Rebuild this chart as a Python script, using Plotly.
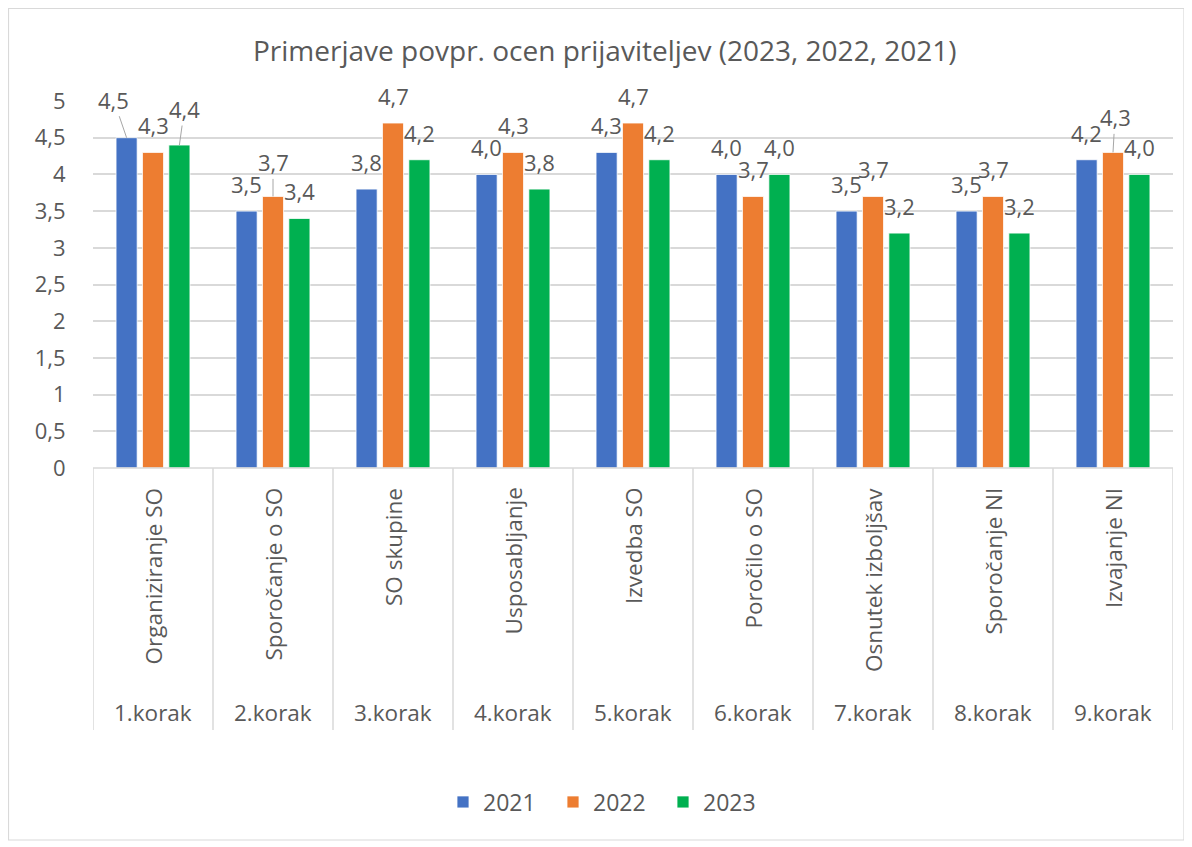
import plotly.graph_objects as go

# ---- data ----
steps = ["1.korak", "2.korak", "3.korak", "4.korak", "5.korak",
         "6.korak", "7.korak", "8.korak", "9.korak"]
activities = ["Organiziranje SO", "Sporočanje o SO", "SO skupine", "Usposabljanje",
              "Izvedba SO", "Poročilo o SO", "Osnutek izboljšav", "Sporočanje NI", "Izvajanje NI"]
years = ["2021", "2022", "2023"]
v2021 = [4.5, 3.5, 3.8, 4.0, 4.3, 4.0, 3.5, 3.5, 4.2]
v2022 = [4.3, 3.7, 4.7, 4.3, 4.7, 3.7, 3.7, 3.7, 4.3]
v2023 = [4.4, 3.4, 4.2, 3.8, 4.2, 4.0, 3.2, 3.2, 4.0]
yticks = [0, 0.5, 1, 1.5, 2, 2.5, 3, 3.5, 4, 4.5, 5]

series = [v2021, v2022, v2023]
colors = ["#4472C4", "#ED7D31", "#00B050"]

# ---- style ----
FONT = "Open Sans"
TXT = "#595959"
GRID = "#D9D9D9"
BARGAP = 0.34
BARGROUPGAP = 0.2
W, H = 1192, 847
OFF = 8  # page body margin
# desired on-screen plot box
SX0, SX1, SY0, SY1 = 93, 1173, 101, 468
ML, MT = SX0 - OFF, SY0 - OFF
MR = W - (SX1 - OFF)
MB = H - (SY1 - OFF)
plot_h = SY1 - SY0
plot_w = SX1 - SX0


def py(screen_y):
    return (SY1 - screen_y) / plot_h


def px(screen_x):
    return (screen_x - SX0) / plot_w


# leader-line label nudges (series index, category index) -> (ax, ay) px
leader = {(0, 0): (-13, -38), (2, 0): (5, -36), (1, 1): (0, -34), (1, 8): (2, -35)}

x = list(range(len(steps)))
fig = go.Figure()
for name, vals, col in zip(years, series, colors):
    fig.add_trace(go.Bar(x=x, y=vals, name=name, marker_color=col,
                         marker_line_color="white", marker_line_width=0.8))

annotations = []
slot = (1 - BARGAP) / len(series)
LBL = dict(size=22, color=TXT, family=FONT)
for j, vals in enumerate(series):
    for i, v in enumerate(vals):
        xpos = i + (j - (len(series) - 1) / 2) * slot
        label = f"{v:.1f}".replace(".", ",")
        if (j, i) in leader:
            ax, ay = leader[(j, i)]
            annotations.append(dict(x=xpos, y=v, xref="x", yref="y", text=label,
                                    showarrow=True, arrowhead=0, arrowwidth=1,
                                    arrowcolor="#A6A6A6", ax=ax, ay=ay, standoff=0,
                                    font=LBL))
        else:
            annotations.append(dict(x=xpos, y=v, xref="x", yref="y", text=label,
                                    showarrow=False, yshift=27, yanchor="middle",
                                    font=LBL))

# title as annotation (centered on the whole chart area)
annotations.append(dict(x=px(604), y=py(50), xref="paper", yref="paper",
                        text="Primerjave povpr. ocen prijaviteljev (2023, 2022, 2021)",
                        showarrow=False, xanchor="center", yanchor="middle",
                        font=dict(size=28, color=TXT, family=FONT)))

# category labels
for i, (st, act) in enumerate(zip(steps, activities)):
    annotations.append(dict(x=i, y=py(486), xref="x", yref="paper", text=act, textangle=-90,
                            showarrow=False, yanchor="top", xanchor="center",
                            font=dict(size=22.5, color=TXT, family=FONT)))
    annotations.append(dict(x=i, y=py(712), xref="x", yref="paper", text=st,
                            showarrow=False, yanchor="middle", xanchor="center",
                            font=dict(size=22.5, color=TXT, family=FONT)))

shapes = []
for i in range(len(steps) + 1):
    shapes.append(dict(type="line", xref="x", yref="paper", x0=i - 0.5, x1=i - 0.5,
                       y0=0, y1=py(730), line=dict(color=GRID, width=1.5)))
shapes.append(dict(type="line", xref="paper", yref="paper", x0=0, x1=1, y0=0, y1=0,
                   line=dict(color=GRID, width=1.5)))
# chart-area border
shapes.append(dict(type="rect", xref="paper", yref="paper",
                   x0=px(8.5), x1=px(1184), y0=py(840), y1=py(8.5),
                   line=dict(color=GRID, width=1.2), fillcolor="rgba(0,0,0,0)", layer="below"))

fig.update_layout(
    width=W, height=H,
    margin=dict(l=ML, r=MR, t=MT, b=MB, autoexpand=False),
    paper_bgcolor="white", plot_bgcolor="white",
    separators=", ",
    barmode="group", bargap=BARGAP, bargroupgap=BARGROUPGAP,
    font=dict(family=FONT, color=TXT, size=22),
    xaxis=dict(range=[-0.5, len(steps) - 0.5], showticklabels=False, showgrid=False,
               zeroline=False, showline=False, fixedrange=True),
    yaxis=dict(range=[0, 5], tickvals=yticks, showgrid=True, gridcolor=GRID, gridwidth=1.5,
               zeroline=False, showline=False, ticks="outside", ticklen=22,
               tickcolor="rgba(0,0,0,0)", tickfont=dict(size=22, color=TXT, family=FONT)),
    legend=dict(orientation="h", x=px(608), xanchor="center", y=py(802),
                yanchor="middle", font=dict(size=23, color=TXT, family=FONT),
                itemwidth=30, entrywidth=65, traceorder="normal"),
    annotations=annotations,
    shapes=shapes,
)

fig.write_html("out.html")
